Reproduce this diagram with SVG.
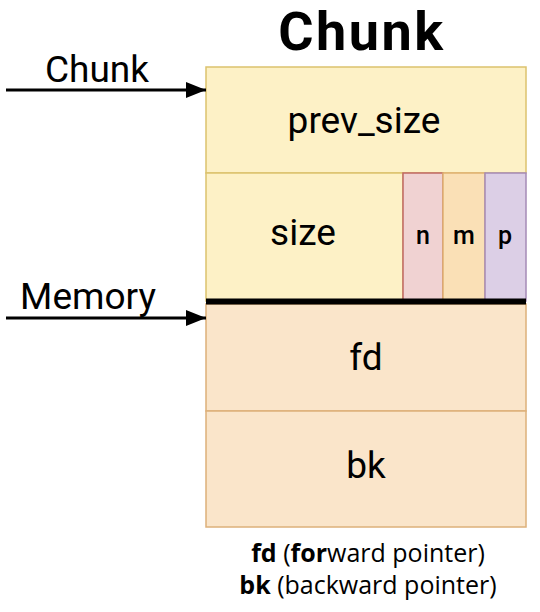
<svg xmlns="http://www.w3.org/2000/svg" width="540" height="612" viewBox="0 0 540 612">
<style>
.lbl{font-family:Roboto,"Liberation Sans",sans-serif;font-size:37px;fill:#000;text-anchor:middle}
.sm{font-family:Roboto,"Liberation Sans",sans-serif;font-size:25px;font-weight:500;fill:#000;text-anchor:middle}
.yel{fill:#fdf1c6;stroke:#dcc26e;stroke-width:1.5}
.org{fill:#fae5ca;stroke:#ddb07a;stroke-width:1.5}
.note{font-family:"Open Sans","Noto Sans",sans-serif;font-size:25px;fill:#000;text-anchor:middle}
</style>
<defs>
<marker id="ah" markerWidth="20" markerHeight="16" refX="20" refY="8" orient="auto" markerUnits="userSpaceOnUse" viewBox="0 0 20 16">
<path d="M0,0 L20,8 L0,16 Z" fill="#000"/>
</marker>
</defs>
<rect width="540" height="612" fill="#fff"/>
<text x="362" y="50" font-family="Roboto,'Liberation Sans',sans-serif" font-size="54" font-weight="bold" letter-spacing="2.5" text-anchor="middle">Chunk</text>
<g id="prev_size"><rect class="yel" x="206" y="67" width="320" height="106"/><text class="lbl" x="364" y="133">prev_size</text></g>
<g id="size"><rect class="yel" x="206" y="173" width="197" height="128"/><text class="lbl" x="303" y="245">size</text></g>
<g id="n"><rect x="403" y="173" width="40" height="128" fill="#f0d2d2" stroke="#c06864" stroke-width="1.5"/><text class="sm" x="423" y="244">n</text></g>
<g id="m"><rect x="443" y="173" width="42" height="128" fill="#fae0b6" stroke="#dfb171" stroke-width="1.5"/><text class="sm" x="464" y="244">m</text></g>
<g id="p"><rect x="485" y="173" width="41" height="128" fill="#dccfe6" stroke="#a58bb6" stroke-width="1.5"/><text class="sm" x="505" y="244">p</text></g>
<g id="fd"><rect class="org" x="206" y="304" width="320" height="107"/><text class="lbl" x="366" y="370">fd</text></g>
<g id="bk"><rect class="org" x="206" y="411" width="320" height="116"/><text class="lbl" x="366" y="478">bk</text></g>
<g id="connectors">
<line x1="206" y1="301.5" x2="526" y2="301.5" stroke="#000" stroke-width="6"/>
<line x1="6" y1="90" x2="206" y2="90" stroke="#000" stroke-width="3" marker-end="url(#ah)"/>
<line x1="6" y1="318" x2="206" y2="318" stroke="#000" stroke-width="3" marker-end="url(#ah)"/>
</g>
<text x="97" y="82" font-family="Roboto,'Liberation Sans',sans-serif" font-size="37" text-anchor="middle">Chunk</text>
<text x="88" y="309" font-family="Roboto,'Liberation Sans',sans-serif" font-size="37" text-anchor="middle">Memory</text>
<text class="note" x="368" y="562"><tspan font-weight="bold">fd</tspan> (<tspan font-weight="bold">for</tspan>ward pointer)</text>
<text class="note" x="368" y="594"><tspan font-weight="bold">bk</tspan> (backward pointer)</text>
</svg>
